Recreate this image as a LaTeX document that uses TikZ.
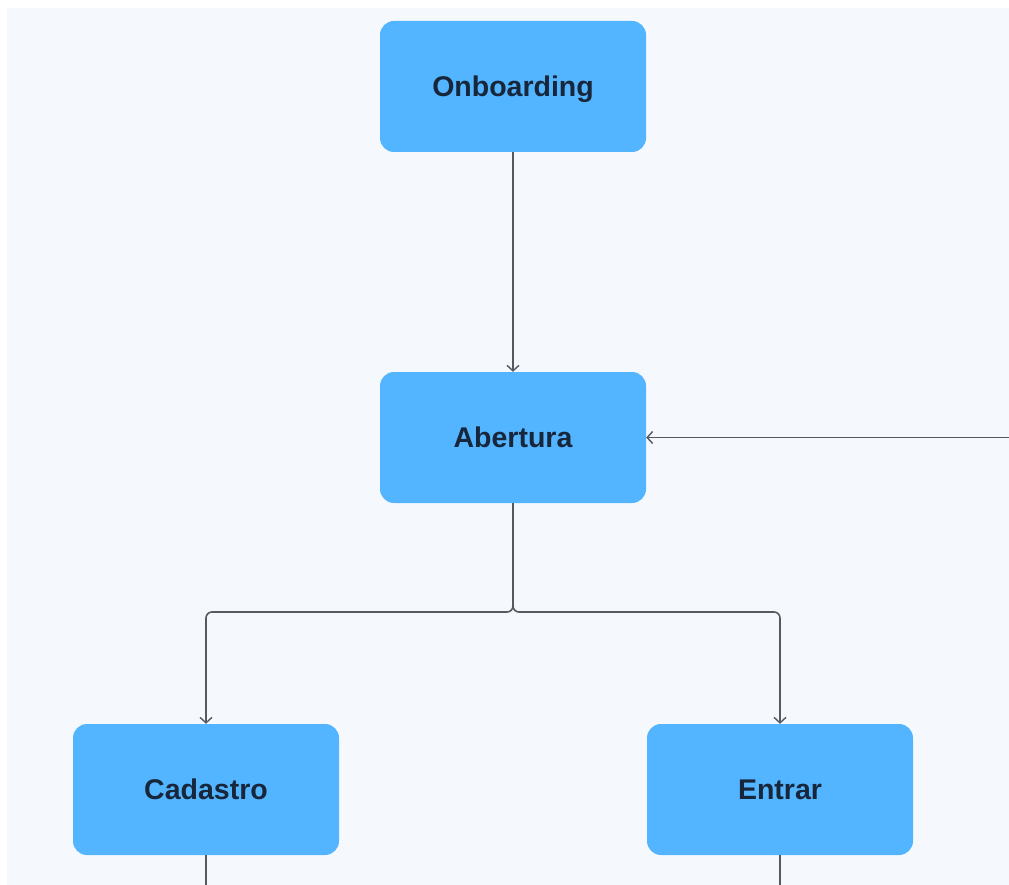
\documentclass[tikz,border=0pt]{standalone}
\usepackage{fontspec}
\setmainfont{Liberation Sans}
\usetikzlibrary{arrows.meta}
\definecolor{canvas}{HTML}{F5F9FE}
\definecolor{boxblue}{HTML}{53B4FF}
\definecolor{ink}{HTML}{17263A}
\definecolor{wire}{HTML}{555A60}
\tikzset{
  stepbox/.style={fill=boxblue, rounded corners=14pt, minimum width=266pt, minimum height=131pt,
    inner sep=0pt, text height=20pt, text depth=0pt, text=ink,
    font=\fontsize{28.5}{32}\selectfont\bfseries},
  link/.style={draw=wire, line width=1.6pt, rounded corners=6pt,
    -{Straight Barb[length=5.5pt,width=12pt,line width=1.4pt]}},
  plain/.style={draw=wire, line width=1.6pt}
}
\begin{document}
\begin{tikzpicture}[x=1pt,y=-1pt]
  \useasboundingbox (0,0) rectangle (1009,885);
  \fill[white] (0,0) rectangle (1009,885);
  % the canvas runs on past the page edges on the right and at the bottom
  \fill[canvas] (7,8) rectangle (1030,905);

  \node[stepbox] (onb) at (513,86.5) {Onboarding};
  \node[stepbox] (abe) at (513,437.5) {Abertura};
  \node[stepbox] (cad) at (206,789.5) {Cadastro};
  \node[stepbox] (ent) at (780,789.5) {Entrar};

  \coordinate (fork) at (513,612);
  \coordinate (back) at (1030,437.5);
  \coordinate (cadout) at (206,905);
  \coordinate (entout) at (780,905);

  \draw[link] (onb.south) -- (abe.north);
  \draw[link] (back) -- (abe.east);
  \draw[link] (abe.south) -- (fork) -| (cad.north);
  \draw[link] (abe.south) -- (fork) -| (ent.north);
  \draw[plain] (cad.south) -- (cadout);
  \draw[plain] (ent.south) -- (entout);
\end{tikzpicture}
\end{document}
